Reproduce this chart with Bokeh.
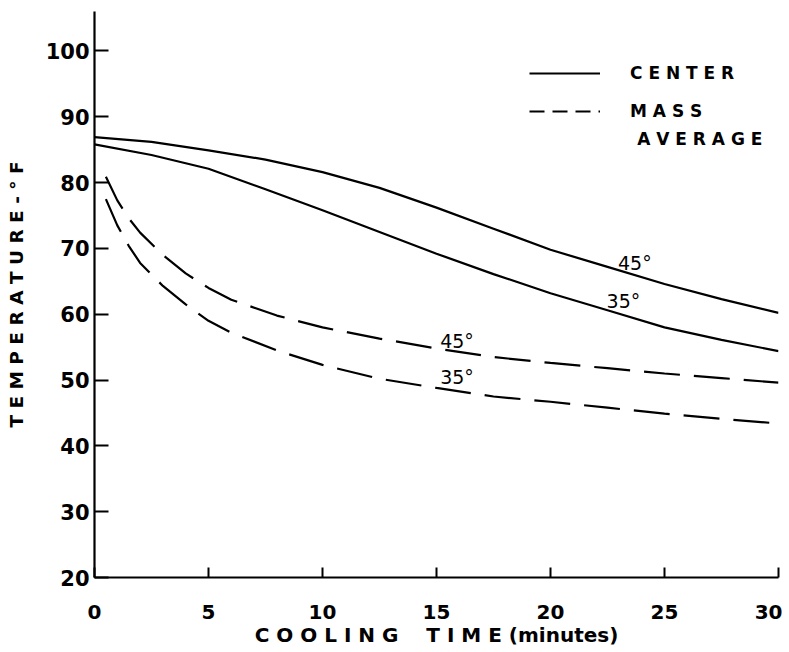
from bokeh.plotting import figure
from bokeh.models import Range1d, Legend, LegendItem, Label, FixedTicker
from bokeh.embed import file_html
from bokeh.resources import INLINE

# ---- data ----
center_x = [0, 2.5, 5, 7.5, 10, 12.5, 15, 17.5, 20, 22.5, 25, 27.5, 30]
center_45 = [86.9, 86.2, 84.9, 83.5, 81.6, 79.2, 76.2, 73.0, 69.8, 67.2, 64.6, 62.3, 60.2]
center_35 = [85.8, 84.2, 82.1, 79.0, 75.8, 72.5, 69.2, 66.1, 63.2, 60.6, 58.0, 56.1, 54.4]

mass_x = [0.5, 1, 1.5, 2, 3, 4, 5, 6, 8, 10, 12.5, 15, 17.5, 20, 22.5, 25, 27.5, 30]
mass_45 = [80.9, 77.3, 74.6, 72.4, 69.0, 66.2, 64.0, 62.2, 59.8, 58.0, 56.3, 54.8, 53.5, 52.6, 51.8, 51.0, 50.3, 49.6]
mass_35 = [77.5, 73.5, 70.4, 67.8, 64.3, 61.5, 59.0, 57.2, 54.5, 52.3, 50.2, 48.8, 47.5, 46.7, 45.8, 44.9, 44.1, 43.4]

x_ticks = [0, 5, 10, 15, 20, 25, 30]
y_ticks = [20, 30, 40, 50, 60, 70, 80, 90, 100]

curve_labels = ["45°", "35°", "45°", "35°"]
series_names = ["C E N T E R", "M A S S", "A V E R A G E"]
NB = "\u00a0"
x_title = "C O O L I N G" + NB * 4 + "T I M E (minutes)"
y_title = "T E M P E R A T U R E - ° F"

FONT = "DejaVu Sans"

p = figure(width=782, height=649, output_backend="svg", toolbar_location=None,
           x_range=Range1d(0, 30), y_range=Range1d(20, 106),
           min_border_left=94, min_border_right=4, min_border_top=11, min_border_bottom=72)
p.outline_line_color = None
p.xgrid.visible = False
p.ygrid.visible = False
p.background_fill_color = "white"
p.border_fill_color = "white"

for ax in (p.xaxis[0], p.yaxis[0]):
    ax.axis_line_width = 2.2
    ax.axis_line_color = "black"
    ax.major_tick_line_width = 2
    ax.major_tick_line_color = "black"
    ax.minor_tick_line_color = None
    ax.major_tick_out = 0
    ax.major_label_text_font = FONT
    ax.major_label_text_font_style = "bold"
    ax.major_label_text_color = "black"
    ax.axis_label_text_font = FONT
    ax.axis_label_text_font_style = "bold"
    ax.axis_label_text_color = "black"

p.xaxis.ticker = FixedTicker(ticks=x_ticks)
p.yaxis.ticker = FixedTicker(ticks=y_ticks)
p.xaxis.major_tick_in = 10
p.yaxis.major_tick_in = 14
p.xaxis.major_label_text_font_size = "20px"
p.yaxis.major_label_text_font_size = "21px"
p.xaxis.major_label_standoff = 27
p.yaxis.major_label_standoff = 5
p.xaxis.axis_label = x_title
p.yaxis.axis_label = y_title
p.xaxis.axis_label_text_font_size = "20px"
p.yaxis.axis_label_text_font_size = "18.5px"
p.xaxis.axis_label_standoff = 1
p.yaxis.axis_label_standoff = 16

lw = 2.2
dash = "36 14"
r_c45 = p.line(center_x, center_45, line_color="black", line_width=lw)
r_c35 = p.line(center_x, center_35, line_color="black", line_width=lw)
r_m45 = p.line(mass_x, mass_45, line_color="black", line_width=lw, line_dash=dash)
r_m35 = p.line(mass_x, mass_35, line_color="black", line_width=lw, line_dash=dash)
# legend-only sample renderers (single point: draws nothing on the plot)
leg_solid = p.line(center_x[:1], center_45[:1], line_color="black", line_width=lw)
leg_dash = p.line(mass_x[:1], mass_45[:1], line_color="black", line_width=lw, line_dash="15 8")

# curve labels
label_pos = [(23.7, 67.8), (23.2, 62.0), (15.9, 56.0), (15.9, 50.5)]
for txt, (lx, ly) in zip(curve_labels, label_pos):
    p.add_layout(Label(x=lx, y=ly, text=txt, text_align="center", text_baseline="middle",
                       text_font=FONT, text_font_size="19px", text_color="black"))

legend = Legend(items=[LegendItem(label=series_names[0], renderers=[leg_solid]),
                       LegendItem(label=series_names[1], renderers=[leg_dash])],
                location=(435, 456), orientation="vertical",
                glyph_width=71, glyph_height=20, label_standoff=30, label_height=20,
                label_text_font=FONT, label_text_font_style="bold", label_text_font_size="17px",
                label_text_color="black", spacing=18, padding=0, margin=0,
                border_line_color=None, background_fill_alpha=0)
p.add_layout(legend)
p.add_layout(Label(x=23.8, y=86.6, text=series_names[2], text_align="left", text_baseline="middle",
                   text_font=FONT, text_font_style="bold", text_font_size="17px", text_color="black"))

open("out.html", "w").write(file_html(p, INLINE))
